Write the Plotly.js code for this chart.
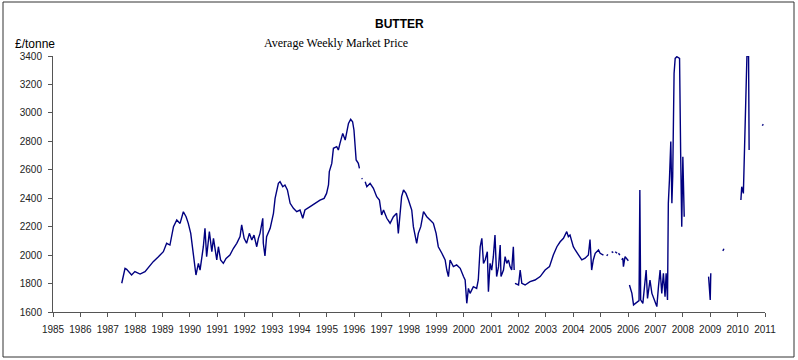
<!DOCTYPE html>
<html>
<head>
<meta charset="utf-8">
<script src="https://cdn.plot.ly/plotly-3.0.1.min.js"></script>
<style>html,body{margin:0;padding:0;background:#fff;}#chart{width:798px;height:360px;}</style>
</head>
<body>
<div id="chart"></div>
<script>
// Average weekly market price of butter (£/tonne); null = gap in the series
const dates = [
1987.51,1987.63,1987.69,1987.87,1987.99,1988.18,1988.36,1988.48,1988.66,1988.85,
1989.03,1989.15,1989.27,1989.40,1989.52,1989.64,1989.76,1989.86,1989.94,
1990.03,1990.10,1990.16,1990.22,1990.31,1990.37,1990.49,1990.55,1990.61,1990.71,1990.80,1990.86,1990.98,
1991.04,1991.12,1991.22,1991.32,1991.46,1991.59,1991.71,1991.83,1991.89,1991.98,
1992.07,1992.17,1992.26,1992.34,1992.44,1992.50,1992.56,1992.66,1992.68,1992.74,1992.80,1992.93,
1993.05,1993.11,1993.17,1993.23,1993.29,1993.39,1993.47,1993.56,1993.66,1993.78,1993.90,
1994.02,1994.12,1994.20,1994.39,1994.57,1994.75,1994.90,1994.99,
1995.06,1995.09,1995.18,1995.24,1995.36,1995.42,1995.48,1995.58,1995.67,1995.73,1995.79,1995.87,1995.94,1995.99,
1996.03,1996.07,1996.15,1996.19,1996.23,1996.27,1996.30,1996.34,1996.40,1996.46,1996.58,1996.70,1996.82,1996.92,
1997.00,1997.07,1997.19,1997.31,1997.43,1997.55,1997.61,1997.67,1997.73,1997.80,1997.89,1997.98,
1998.10,1998.16,1998.22,1998.28,1998.34,1998.43,1998.53,1998.65,1998.77,1998.89,1998.99,
1999.07,1999.20,1999.32,1999.38,1999.44,1999.50,1999.62,1999.74,1999.87,1999.99,
2000.05,2000.11,2000.17,2000.23,2000.35,2000.47,2000.53,2000.60,2000.66,2000.72,2000.78,2000.86,2000.90,2000.96,
2001.02,2001.08,2001.14,2001.20,2001.27,2001.33,2001.36,2001.45,2001.51,2001.57,2001.63,2001.69,2001.75,2001.81,2001.84,2001.855,2001.87,
2002.00,2002.06,2002.12,2002.24,2002.42,2002.60,2002.79,2002.97,
2003.13,2003.27,2003.40,2003.52,2003.64,2003.76,2003.82,2003.88,
2004.00,2004.07,2004.19,2004.31,2004.43,2004.55,2004.61,2004.67,2004.73,2004.80,2004.92,2004.98,
2005.10,2005.16,2005.22,2005.26,2005.33,2005.40,2005.46,2005.50,2005.53,2005.60,2005.63,2005.65,2005.70,2005.74,2005.77,2005.81,2005.83,2005.89,
2006.01,2006.03,2006.05,2006.14,2006.20,2006.40,2006.43,2006.46,2006.54,2006.66,2006.71,2006.80,2006.87,2006.99,
2007.05,2007.11,2007.17,2007.23,2007.29,2007.35,2007.39,2007.44,2007.47,2007.51,2007.56,2007.60,2007.63,2007.68,2007.72,2007.78,2007.88,2007.92,2007.96,
2008.00,2008.05,2008.50,2008.94,
2009.00,2009.02,2009.20,2009.46,2009.50,2009.80,
2010.12,2010.15,2010.21,2010.27,2010.34,2010.40,2010.42,2010.60,2010.90,2010.94
];
const prices = [
1802,1907,1900,1860,1884,1867,1884,1914,1954,1989,
2024,2083,2071,2200,2247,2223,2305,2270,2223,
2153,2036,1966,1860,1942,1895,2059,2188,1989,2165,2024,2118,1966,
2059,1966,1942,1977,2001,2048,2083,2130,2212,2118,
2083,2153,2106,2141,2059,2118,2153,2259,2083,1994,2130,2188,
2294,2399,2458,2505,2516,2481,2493,2458,2364,2329,2305,
2317,2259,2317,2341,2364,2387,2399,2434,
2493,2587,2645,2751,2762,2739,2786,2856,2809,2880,2926,2955,2938,2880,
2786,2669,2645,2610,null,2540,2535,null,2516,2481,2505,2470,2411,2387,
2282,2317,2259,2224,2270,2294,2153,2317,2411,2458,2434,2387,
2317,2200,2130,2083,2153,2200,2305,2270,2247,2224,2153,
2059,2013,1966,1895,1849,1966,1919,1931,1907,1849,
1825,1661,1766,1731,1778,1766,1825,2059,2118,1942,1966,2024,1743,1942,
1895,1989,2141,1849,1919,2071,1849,1895,1989,1942,1966,1919,1895,2059,1895,null,1802,
1790,1895,1802,1790,1813,1825,1849,1895,
1919,2001,2059,2094,2118,2165,2130,2141,
2059,2036,2001,1966,1978,2001,2110,1895,1966,2013,2036,2013,
2000,null,1995,2005,null,2024,2018,null,2024,2013,null,2013,2000,null,1966,1978,1919,1989,
1960,null,1790,1731,1650,1680,2458,1685,1661,1895,1696,1825,1731,1661,
1638,1778,1895,1731,1872,1708,1872,1685,2364,2528,2798,2364,2552,3278,3383,3395,3383,2716,2200,
2692,2270,null,1849,
1685,1872,null,2030,2045,null,
2388,2481,2434,2973,3400,3400,2739,null,2910,2920
];
const yearTicks = [1985,1986,1987,1988,1989,1990,1991,1992,1993,1994,1995,1996,1997,1998,1999,2000,2001,2002,2003,2004,2005,2006,2007,2008,2009,2010,2011];
const yTicks = [1600,1800,2000,2200,2400,2600,2800,3000,3200,3400];

const W = 798, H = 360, L = 53, R = 33, T = 56, B = 48;
const pw = W - L - R, ph = H - T - B;
const px = v => (v - L) / pw;          // pixel x -> paper x
const py = v => (H - B - v) / ph;      // pixel y -> paper y

const trace = {
  x: dates, y: prices, type: 'scatter', mode: 'lines',
  line: {color: '#000080', width: 1.4}, connectgaps: false, hoverinfo: 'skip'
};

const tickFont = {family: 'Liberation Sans, Arial, sans-serif', size: 10, color: '#222'};
const layout = {
  width: W, height: H,
  margin: {l: L, r: R, t: T, b: B, pad: 0},
  paper_bgcolor: '#fff', plot_bgcolor: '#fff',
  showlegend: false,
  xaxis: {
    range: [1985, 2011], tickmode: 'array', tickvals: yearTicks, ticktext: yearTicks.map(String),
    showgrid: false, zeroline: false, showline: true, linecolor: '#555', linewidth: 1,
    ticks: 'outside', ticklen: 4, tickcolor: '#555', tickfont: tickFont, tickangle: 0,
    ticklabelstandoff: 4
  },
  yaxis: {
    range: [1600, 3400], tickmode: 'array', tickvals: yTicks, ticktext: yTicks.map(String),
    showgrid: false, zeroline: false, showline: true, linecolor: '#555', linewidth: 1,
    ticks: 'outside', ticklen: 4, tickcolor: '#555', tickfont: tickFont,
    ticklabelstandoff: 4
  },
  annotations: [
    {text: '<b>BUTTER</b>', xref: 'paper', yref: 'paper', x: px(399), y: py(24), xanchor: 'center', yanchor: 'middle', showarrow: false,
     font: {family: 'Liberation Sans, Arial, sans-serif', size: 12, color: '#000'}},
    {text: 'Average Weekly Market Price', xref: 'paper', yref: 'paper', x: px(336), y: py(43), xanchor: 'center', yanchor: 'middle', showarrow: false,
     font: {family: 'Liberation Serif, Times New Roman, serif', size: 12, color: '#000'}},
    {text: '£/tonne', xref: 'paper', yref: 'paper', x: px(35), y: py(44), xanchor: 'center', yanchor: 'middle', showarrow: false,
     font: {family: 'Liberation Sans, Arial, sans-serif', size: 12, color: '#000'}}
  ],
  shapes: [
    {type: 'rect', xref: 'paper', yref: 'paper', x0: px(3), x1: px(794), y0: py(357), y1: py(2),
     line: {color: '#333', width: 1}, fillcolor: 'rgba(0,0,0,0)', layer: 'below'}
  ]
};

Plotly.newPlot('chart', [trace], layout, {staticPlot: true, displayModeBar: false});
</script>
</body>
</html>
